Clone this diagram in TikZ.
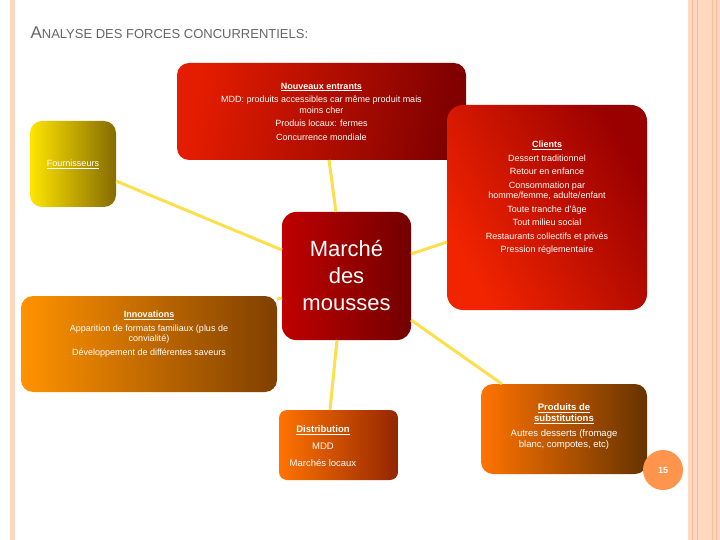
\documentclass[tikz,border=0pt]{standalone}
\usepackage{fontspec}
\setmainfont{Liberation Sans}
\begin{document}
\begin{tikzpicture}[x=1pt,y=-1pt,
 box/.style={rounded corners=12pt, align=center, text=white, font=\fontsize{9}{10.5}\selectfont, inner sep=2pt},
 conn/.style={draw=yellow!70!orange!70!white, line width=3pt}]
\useasboundingbox (0,0) rectangle (720,540);
\fill[white] (0,0) rectangle (720,540);
\fill[red!20!orange!25] (10,0) rectangle (15,540);
\fill[red!20!orange!25] (688,0) rectangle (720,540);
\foreach \x in {692,697,712,716} \draw[red!40!orange!40, line width=0.6pt] (\x,0) -- (\x,540);
\node[anchor=west, text=gray!80!black, font=\fontsize{17}{20}\selectfont] (title) at (27,33) {A\fontsize{13}{16}\selectfont NALYSE DES FORCES CONCURRENTIELS:};
% boxes
\path[rounded corners=12pt, left color=red!75!orange!90!black, right color=red!50!black, shading angle=80] (177,63) rectangle (466,160);
\path[rounded corners=12pt, left color=yellow!80!orange, right color=yellow!40!black!80!orange] (30,121) rectangle (116,207);
\path[rounded corners=16pt, left color=red!70!orange!95!black, right color=red!60!black, shading angle=120] (447,105) rectangle (647,310);
\path[rounded corners=14pt, left color=red!75!black, right color=red!45!black] (282,212) rectangle (411,340);
\path[rounded corners=12pt, left color=orange!85!yellow, right color=orange!50!black] (21,296) rectangle (277,392);
\path[rounded corners=8pt, left color=orange!90!red, right color=red!40!black!70!orange] (279,410) rectangle (398,480);
\path[rounded corners=12pt, left color=orange!90!red, right color=orange!40!black] (481,384) rectangle (647,474);
\node[box] (ne) at (321.5,111.5) {\underline{\textbf{Nouveaux entrants}}\\[3pt]MDD: produits accessibles car même produit mais\\moins cher\\[3pt]Produis locaux: fermes\\[3pt]Concurrence mondiale};
\node[box] (fo) at (73,164) {\underline{Fournisseurs}};
\node[box] (cl) at (547,198) {\underline{\textbf{Clients}}\\[3pt]Dessert traditionnel\\[3pt]Retour en enfance\\[3pt]Consommation par\\homme/femme, adulte/enfant\\[3pt]Toute tranche d'âge\\[3pt]Tout milieu social\\[3pt]Restaurants collectifs et privés\\[3pt]Pression réglementaire};
\node[box, font=\fontsize{22}{27}\selectfont] (ma) at (346.5,276) {Marché\\des\\mousses};
\node[box] (in) at (149,334) {\underline{\textbf{Innovations}}\\[3pt]Apparition de formats familiaux (plus de\\convialité)\\[3pt]Développement de différentes saveurs};
\node[box, font=\fontsize{9.5}{12}\selectfont] (di) at (323,446) {\underline{\textbf{Distribution}}\\[5pt]MDD\\[5pt]Marchés locaux};
\node[box, font=\fontsize{9.5}{11}\selectfont] (ps) at (564,427) {\underline{\textbf{Produits de}}\\\underline{\textbf{substitutions}}\\[4pt]Autres desserts (fromage\\blanc, compotes, etc)};
\node[circle, fill=orange!80!red!70!white, minimum size=40pt, text=white, font=\bfseries\small] (num) at (663,470) {15};
% connectors
\coordinate (mN) at (336,212); \coordinate (neS) at (329,160);
\coordinate (mW) at (282,250); \coordinate (foE) at (116,181);
\coordinate (mE) at (411,254); \coordinate (clW) at (447,242);
\coordinate (mSW) at (282,298); \coordinate (inE) at (277,299);
\coordinate (mS) at (337,340); \coordinate (diN) at (330,410);
\coordinate (mSE) at (411,320); \coordinate (psN) at (502,384);
\begin{scope}[on background layer/.try]
\end{scope}
\draw[conn] (neS) -- (mN);
\draw[conn] (foE) -- (mW);
\draw[conn] (clW) -- (mE);
\draw[conn] (inE) -- (mSW);
\draw[conn] (mS) -- (diN);
\draw[conn] (mSE) -- (psN);
\end{tikzpicture}
\end{document}
